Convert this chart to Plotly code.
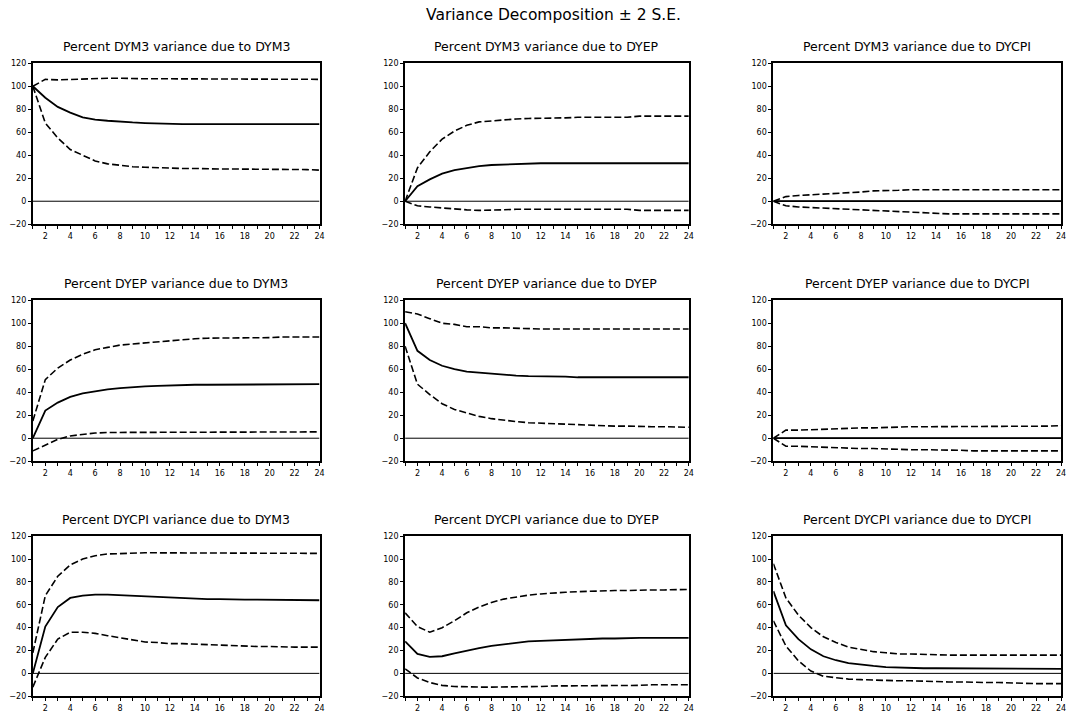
import plotly.graph_objects as go

W, H = 1076, 719

horizon = list(range(1, 25))

titles = [
    "Percent DYM3 variance due to DYM3",
    "Percent DYM3 variance due to DYEP",
    "Percent DYM3 variance due to DYCPI",
    "Percent DYEP variance due to DYM3",
    "Percent DYEP variance due to DYEP",
    "Percent DYEP variance due to DYCPI",
    "Percent DYCPI variance due to DYM3",
    "Percent DYCPI variance due to DYEP",
    "Percent DYCPI variance due to DYCPI",
]

# Panel 1: DYM3 due to DYM3
m3_m3 = [100, 90, 82, 77, 73, 71, 70, 69, 68.5, 68, 67.5, 67.5, 67, 67, 67, 67, 67, 67, 67, 67, 67, 67, 67, 67]
m3_m3_up = [100, 106, 105.5, 106, 106.5, 107, 107, 107, 106.5, 106.5, 106.5, 106.5, 106.5, 106, 106, 106, 106, 106, 106, 106, 106, 106, 106, 106]
m3_m3_lo = [100, 68, 55, 45, 40, 35, 32.5, 31, 30, 29.5, 29, 29, 28.5, 28.5, 28, 28, 28, 28, 28, 28, 27.5, 27.5, 27.5, 27]

# Panel 2: DYM3 due to DYEP
m3_ep = [0, 13, 19, 24, 27, 29, 30.5, 31.5, 32, 32.5, 33, 33, 33, 33, 33, 33, 33, 33, 33, 33, 33, 33, 33, 33]
m3_ep_up = [0, 29, 43, 54, 61, 66, 69, 70, 71, 71.5, 72, 72, 72.5, 72.5, 73, 73, 73, 73, 73, 74, 74, 74, 74, 74]
m3_ep_lo = [0, -4, -5, -6, -7, -7.5, -8, -8, -7.5, -7, -7, -7, -7, -7, -7, -7, -7, -7, -7, -8, -8, -8, -8, -8]

# Panel 3: DYM3 due to DYCPI
m3_cp = [0] * 24
m3_cp_up = [0, 4, 5, 5.5, 6, 6.5, 7, 8, 9, 9, 9.5, 10, 10, 10, 10, 10, 10, 10, 10, 10, 10, 10, 10, 10]
m3_cp_lo = [0, -4, -5, -5.5, -6, -6.5, -7, -8, -8.5, -9, -9.5, -10, -10.5, -11, -11, -11, -11, -11, -11, -11, -11, -11, -11, -11]

# Panel 4: DYEP due to DYM3
ep_m3 = [0, 24, 31, 36, 39, 41, 42.5, 43.5, 44.5, 45, 45.5, 46, 46, 46.5, 46.5, 46.5, 47, 47, 47, 47, 47, 47, 47, 47]
ep_m3_up = [15, 51, 61, 68, 73, 77, 79, 81, 82, 83, 84, 85, 86, 86.5, 87, 87, 87, 87, 87.5, 87.5, 88, 88, 88, 88]
ep_m3_lo = [-11, -6, -1, 2, 3.5, 4.5, 5, 5, 5.5, 5.5, 5.5, 5.5, 5.5, 5.5, 5.5, 5.5, 5.5, 5.5, 5.5, 5.5, 5.5, 5.5, 5.5, 5.5]

# Panel 5: DYEP due to DYEP
ep_ep = [100, 76, 68, 63, 60, 58, 57, 56, 55, 54.5, 54, 54, 53.5, 53.5, 53, 53, 53, 53, 53, 53, 53, 53, 53, 53]
ep_ep_up = [110, 108, 104, 100, 99, 97, 97, 96, 96, 95.5, 95, 95, 95, 95, 95, 95, 95, 95, 95, 95, 95, 95, 95, 95]
ep_ep_lo = [80, 47, 38, 30, 25, 22, 19, 17, 15.5, 14.5, 13.5, 13, 12.5, 12, 11.5, 11, 11, 10.5, 10.5, 10, 10, 10, 10, 9.5]

# Panel 6: DYEP due to DYCPI
ep_cp = [0] * 24
ep_cp_up = [0, 7, 7, 7.5, 8, 8, 8.5, 9, 9, 9.5, 9.5, 10, 10, 10, 10, 10, 10, 10, 10, 10, 10, 10.5, 10.5, 11]
ep_cp_lo = [0, -7, -7, -7.5, -8, -8, -8.5, -9, -9, -9.5, -10, -10, -10, -10, -10.5, -10.5, -11, -11, -11, -11, -11, -11, -11, -11]

# Panel 7: DYCPI due to DYM3
cp_m3 = [0, 41, 58, 66, 68, 69, 69, 68.5, 68, 67, 66.5, 66, 65.5, 65, 65, 65, 64.5, 64.5, 64.5, 64.5, 64, 64, 64, 64]
cp_m3_up = [18, 68, 85, 95, 100, 103, 104.5, 105, 105, 105.5, 105.5, 105.5, 105, 105, 105, 105, 105, 105, 105, 105, 105, 105, 105, 105]
cp_m3_lo = [-12, 14, 30, 36, 36, 35, 33, 31, 29.5, 27.5, 27, 26, 26, 25.5, 25, 24.5, 24, 24, 23.5, 23.5, 23, 23, 23, 23]

# Panel 8: DYCPI due to DYEP
cp_ep = [28, 17, 14.5, 15, 17.5, 20, 22, 24, 25.5, 27, 28, 28.5, 29, 29.5, 30, 30, 30.5, 30.5, 31, 31, 31, 31, 31, 31]
cp_ep_up = [53, 41, 36, 40, 46, 53, 58, 62, 65, 67, 68.5, 69.5, 70.5, 71, 71.5, 72, 72, 72.5, 72.5, 73, 73, 73, 73.5, 73.5]
cp_ep_lo = [4, -4, -8, -10.5, -11.5, -12, -12, -12, -12, -12, -11.5, -11.5, -11, -11, -11, -11, -10.5, -10.5, -10.5, -10.5, -10, -10, -10, -10]

# Panel 9: DYCPI due to DYCPI
cp_cp = [72, 42, 30, 21, 15, 11.5, 9, 7.5, 6.5, 5.5, 5, 5, 4.5, 4.5, 4.5, 4.5, 4, 4, 4, 4, 4, 4, 4, 4]
cp_cp_up = [96, 66, 51, 40, 32, 27, 23, 21, 19, 18, 17, 17, 16.5, 16.5, 16, 16, 16, 16, 16, 16, 16, 16, 16, 16]
cp_cp_lo = [46, 24, 11, 2, -2.5, -4, -5, -5.5, -6, -6, -6.5, -6.5, -7, -7, -7.5, -7.5, -8, -8, -8, -8.5, -8.5, -9, -9, -9]

centers = [m3_m3, m3_ep, m3_cp, ep_m3, ep_ep, ep_cp, cp_m3, cp_ep, cp_cp]
uppers = [m3_m3_up, m3_ep_up, m3_cp_up, ep_m3_up, ep_ep_up, ep_cp_up, cp_m3_up, cp_ep_up, cp_cp_up]
lowers = [m3_m3_lo, m3_ep_lo, m3_cp_lo, ep_m3_lo, ep_ep_lo, ep_cp_lo, cp_m3_lo, cp_ep_lo, cp_cp_lo]

y_ticks = [-20, 0, 20, 40, 60, 80, 100, 120]
x_tick_text = [str(h) if h % 2 == 0 else "" for h in horizon]

# layout geometry (pixels)
col_px = [(33, 321), (407, 692), (777, 1066)]
row_px = [(60, 223), (300, 463), (539, 701)]

FONT = "DejaVu Sans, Liberation Sans, Arial, sans-serif"

fig = go.Figure()
layout = dict(
    width=W, height=H,
    margin=dict(l=0, r=0, t=0, b=0),
    paper_bgcolor="white", plot_bgcolor="white",
    showlegend=False,
    font=dict(family=FONT, color="black"),
    annotations=[],
)

for i in range(9):
    r, c = divmod(i, 3)
    n = i + 1
    xa = "x" if n == 1 else f"x{n}"
    ya = "y" if n == 1 else f"y{n}"
    x0, x1 = col_px[c]
    y0, y1 = row_px[r]
    dx = [x0 / W, x1 / W]
    dy = [1 - y1 / H, 1 - y0 / H]
    fig.add_trace(go.Scatter(x=[horizon[0], horizon[-1]], y=[0, 0], mode="lines",
                             line=dict(color="black", width=1), xaxis=xa, yaxis=ya,
                             hoverinfo="skip"))
    fig.add_trace(go.Scatter(x=horizon, y=uppers[i], mode="lines",
                             line=dict(color="black", width=1.6, dash="7px,3px"),
                             xaxis=xa, yaxis=ya))
    fig.add_trace(go.Scatter(x=horizon, y=lowers[i], mode="lines",
                             line=dict(color="black", width=1.6, dash="7px,3px"),
                             xaxis=xa, yaxis=ya))
    fig.add_trace(go.Scatter(x=horizon, y=centers[i], mode="lines",
                             line=dict(color="black", width=1.8),
                             xaxis=xa, yaxis=ya))
    xkey = "xaxis" if n == 1 else f"xaxis{n}"
    ykey = "yaxis" if n == 1 else f"yaxis{n}"
    layout[xkey] = dict(
        domain=dx, anchor=ya, range=[1, 24],
        tickmode="array", tickvals=horizon, ticktext=x_tick_text,
        ticks="outside", ticklen=3, tickwidth=1.2, tickcolor="black",
        showline=True, linecolor="black", linewidth=2, mirror=True,
        showgrid=False, zeroline=False,
        tickfont=dict(family=FONT, size=8, color="black"),
    )
    layout[ykey] = dict(
        domain=dy, anchor=xa, range=[-20, 120],
        tickmode="array", tickvals=y_ticks,
        ticks="outside", ticklen=3, tickwidth=1.2, tickcolor="black",
        showline=True, linecolor="black", linewidth=2, mirror=True,
        showgrid=False, zeroline=False,
        tickfont=dict(family=FONT, size=8, color="black"),
    )
    layout["annotations"].append(dict(
        text=titles[i], x=(dx[0] + dx[1]) / 2, y=1 - (y0 - 7) / H,
        xref="paper", yref="paper", xanchor="center", yanchor="bottom",
        showarrow=False, font=dict(family=FONT, size=12.5, color="black"),
    ))

layout["annotations"].append(dict(
    text="Variance Decomposition ± 2 S.E.", x=556 / W, y=1 - 11 / H,
    xref="paper", yref="paper", xanchor="center", yanchor="middle",
    showarrow=False, font=dict(family=FONT, size=15.5, color="black"),
))

fig.update_layout(**layout)
fig.write_html(
    "out.html",
    config={"displayModeBar": False},
    post_script="document.body.style.margin='0';document.body.style.padding='0';",
)
